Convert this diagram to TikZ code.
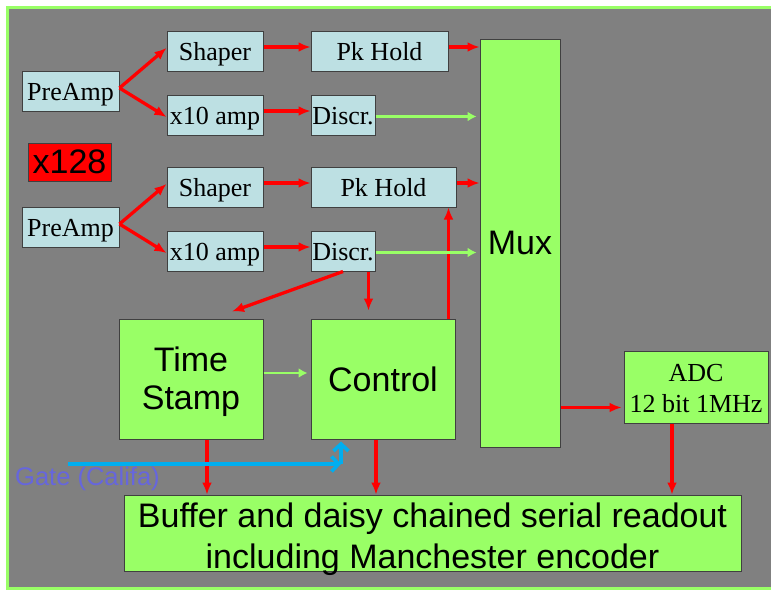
\documentclass[tikz,border=0pt]{standalone}
\usepackage{fontspec}
\setmainfont{Liberation Serif}
\newfontfamily\arialf{Liberation Sans}
\usetikzlibrary{arrows.meta,calc}
\definecolor{bgc}{HTML}{808080}
\definecolor{lblue}{HTML}{BDE0E3}
\definecolor{lgreen}{HTML}{99FF66}
\definecolor{cyanl}{HTML}{00AEEF}
\definecolor{gatec}{HTML}{6666DD}
\begin{document}
\begin{tikzpicture}[x=1pt,y=-1pt,
  sboxbase/.style={draw=black!75, line width=1pt, fill=lblue, inner sep=0pt, font=\fontsize{26}{31}\selectfont},
  sbox/.style={sboxbase, text height=20pt, text depth=1pt},
  gbox/.style={draw=black!75, line width=1pt, fill=lgreen, inner sep=0pt, align=center, font=\arialf\fontsize{34}{38}\selectfont},
  ra/.style={draw=red, line width=3.3pt, -{Latex[length=12pt,width=10pt]}},
  ga/.style={draw=lgreen, line width=2.5pt, -{Latex[length=9pt,width=10pt]}},
  ba/.style={draw=cyanl, line width=3.6pt, -{Straight Barb[length=7pt,width=15pt]}},
]
\fill[white] (0,0) rectangle (771,589);
\useasboundingbox (0,0) rectangle (771,589);
\draw[lgreen, line width=3pt, fill=bgc] (7,7) rectangle (800,588);

% channel 1
\node[sbox, minimum width=97pt, minimum height=40pt] (pa1) at (70.5,91) {PreAmp};
\node[sbox, minimum width=96pt, minimum height=40pt] (sh1) at (215,51) {Shaper};
\node[sbox, minimum width=96pt, minimum height=40pt] (xa1) at (215,115) {x10 amp};
\node[sbox, minimum width=137pt, minimum height=40pt] (pk1) at (379.5,51) {Pk Hold};
\node[sbox, minimum width=64pt, minimum height=40pt] (di1) at (343,115) {Discr.};
% x128
\node[draw=black!75, line width=1pt, fill=red, inner sep=0pt, minimum width=83pt, minimum height=38pt, font=\arialf\fontsize{34}{39}\selectfont] (xn) at (69.5,162) {x128};
% channel 2
\node[sbox, minimum width=97pt, minimum height=40pt] (pa2) at (70.5,227) {PreAmp};
\node[sbox, minimum width=96pt, minimum height=40pt] (sh2) at (215,187) {Shaper};
\node[sbox, minimum width=96pt, minimum height=40pt] (xa2) at (215,251) {x10 amp};
\node[sbox, minimum width=145pt, minimum height=40pt] (pk2) at (383.5,187) {Pk Hold};
\node[sbox, minimum width=64pt, minimum height=40pt] (di2) at (343,251) {Discr.};
% big blocks
\node[gbox, minimum width=80pt, minimum height=408pt] (mux) at (520,243) {Mux};
\node[gbox, minimum width=144pt, minimum height=120pt, inner ysep=-4pt] (ts) at (191,379) {\rule{0pt}{31pt}Time\\Stamp};
\node[gbox, minimum width=144pt, minimum height=120pt] (ctl) at (383,379) {Control};
\node[sboxbase, fill=lgreen, align=center, minimum width=144pt, minimum height=72pt, inner ysep=-2pt] (adc) at (696,387) {\rule{0pt}{21pt}ADC\\12 bit 1MHz};
\node[gbox, minimum width=617pt, minimum height=76pt, inner ysep=-6pt, font=\arialf\fontsize{34}{41}\selectfont] (buf) at (432.5,533) {\rule{0pt}{37pt}Buffer and daisy chained serial readout\\including Manchester encoder};

% red connectors
\draw[ra] ([yshift=3pt]pa1.east) -- ([yshift=3pt]sh1.west);
\draw[ra] ([yshift=3pt]pa1.east) -- ([yshift=-2pt]xa1.west);
\draw[ra] ([yshift=3pt]pa2.east) -- ([yshift=3pt]sh2.west);
\draw[ra] ([yshift=3pt]pa2.east) -- ([yshift=-2pt]xa2.west);
\draw[ra] ([yshift=4pt]sh1.east) -- ([yshift=4pt]sh1.east -| pk1.west);
\draw[ra] ([yshift=4pt]xa1.east) -- ([yshift=4pt]xa1.east -| di1.west);
\draw[ra] ([yshift=4pt]sh2.east) -- ([yshift=4pt]sh2.east -| pk2.west);
\draw[ra] ([yshift=4pt]xa2.east) -- ([yshift=4pt]xa2.east -| di2.west);
\draw[ra] ([yshift=4pt]pk1.east) -- ([yshift=4pt]pk1.east -| mux.west);
\draw[ra] ([yshift=4pt]pk2.east) -- ([yshift=4pt]pk2.east -| mux.west);
\draw[ra] (di2.south) -- ([xshift=41pt,yshift=7pt]ts.north);
\draw[ra, shorten >=8pt] ([xshift=-7pt]di2.south east) -- ([xshift=-7pt]di2.south east |- ctl.north);
\draw[ra] ([xshift=-7pt]ctl.north east) -- ([xshift=-7pt]ctl.north east |- pk2.south);
\draw[ra] ([xshift=16pt]ts.south) -- ([xshift=16pt]ts.south |- buf.north);
\draw[ra] ([xshift=-7pt]ctl.south) -- ([xshift=-7pt]ctl.south |- buf.north);
\draw[ra, shorten >=2pt] ([yshift=40pt]mux.south east) -- ([yshift=40pt]mux.south east -| adc.west);
\draw[ra] ([xshift=-24pt]adc.south) -- ([xshift=-24pt]adc.south |- buf.north);

% green connectors
\draw[ga, shorten >=3pt] ([yshift=-1.5pt]di1.east) -- ([yshift=-1.5pt]di1.east -| mux.west);
\draw[ga, shorten >=3pt] ([yshift=-1.5pt]di2.east) -- ([yshift=-1.5pt]di2.east -| mux.west);
\draw[ga, shorten >=3pt] ([yshift=6pt]ts.east) -- ([yshift=6pt]ts.east -| ctl.west);

% gate
\coordinate (gs) at (68,464);
\coordinate (gc) at (341,464);
\draw[ba] (gs) -- (gc);
\draw[ba, shorten >=2pt] (gc) -- (gc |- ctl.south);
\node[anchor=base west, inner sep=0pt, text=gatec, font=\arialf\fontsize{25.5}{30}\selectfont] (gl) at (15,485) {Gate (Califa)};
\end{tikzpicture}
\end{document}
